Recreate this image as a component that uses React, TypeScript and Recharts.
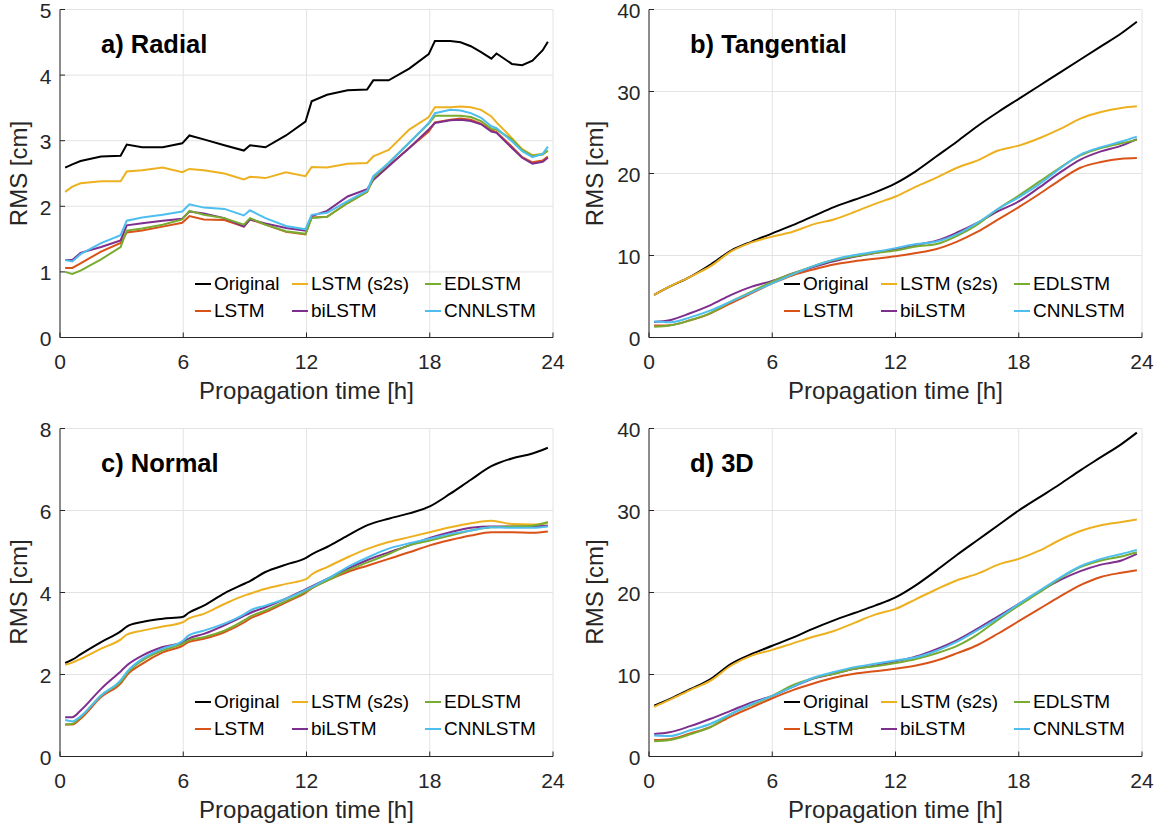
import React from 'react';
import { LineChart, Line, XAxis, YAxis, CartesianGrid, Legend } from 'recharts';

const FONT = '"Liberation Sans", Arial, Helvetica, sans-serif';
const AXIS_COLOR = '#262626';
const GRID_COLOR = '#e3e3e3';

// ---- a) Radial ----
const radialHours = [0.25, 0.6, 1, 2, 2.95, 3.25, 4, 5, 5.95, 6.3, 7, 8, 8.95, 9.25, 10, 11, 11.95, 12.25, 13, 14, 14.95, 15.25, 16, 17, 17.95, 18.25, 19, 19.5, 20, 20.5, 21, 21.25, 22, 22.5, 23, 23.5, 23.75];
const radialOriginal = [2.59, 2.64, 2.69, 2.76, 2.77, 2.94, 2.9, 2.9, 2.96, 3.08, 3.02, 2.93, 2.85, 2.93, 2.9, 3.08, 3.29, 3.6, 3.7, 3.77, 3.78, 3.92, 3.92, 4.1, 4.32, 4.52, 4.52, 4.5, 4.44, 4.35, 4.25, 4.33, 4.17, 4.15, 4.22, 4.38, 4.51];
const radialS2S = [2.22, 2.3, 2.35, 2.38, 2.38, 2.53, 2.55, 2.59, 2.52, 2.57, 2.55, 2.5, 2.41, 2.45, 2.43, 2.52, 2.46, 2.6, 2.59, 2.65, 2.66, 2.76, 2.86, 3.17, 3.36, 3.51, 3.51, 3.52, 3.51, 3.47, 3.37, 3.28, 3.04, 2.87, 2.78, 2.8, 2.84];
const radialLSTM = [1.06, 1.06, 1.13, 1.31, 1.44, 1.6, 1.63, 1.69, 1.75, 1.85, 1.8, 1.79, 1.69, 1.8, 1.72, 1.61, 1.57, 1.83, 1.84, 2.05, 2.22, 2.41, 2.62, 2.89, 3.14, 3.28, 3.32, 3.34, 3.32, 3.26, 3.16, 3.13, 2.91, 2.75, 2.67, 2.7, 2.76];
const radialED = [1.0, 0.97, 1.02, 1.19, 1.38, 1.63, 1.66, 1.72, 1.8, 1.93, 1.87, 1.82, 1.72, 1.82, 1.72, 1.62, 1.58, 1.82, 1.84, 2.05, 2.22, 2.43, 2.66, 2.97, 3.26, 3.38, 3.38, 3.38, 3.36, 3.3, 3.18, 3.17, 3.02, 2.86, 2.77, 2.79, 2.85];
const radialBi = [1.18, 1.18, 1.29, 1.38, 1.48, 1.71, 1.74, 1.78, 1.81, 1.92, 1.89, 1.82, 1.69, 1.8, 1.74, 1.67, 1.63, 1.85, 1.93, 2.15, 2.26, 2.4, 2.61, 2.89, 3.17, 3.27, 3.31, 3.32, 3.3, 3.25, 3.14, 3.12, 2.89, 2.74, 2.65, 2.68, 2.74];
const radialCNN = [1.18, 1.16, 1.27, 1.44, 1.56, 1.78, 1.83, 1.87, 1.92, 2.03, 1.98, 1.96, 1.86, 1.94, 1.82, 1.7, 1.65, 1.87, 1.9, 2.08, 2.24, 2.46, 2.66, 2.97, 3.27, 3.42, 3.47, 3.46, 3.42, 3.35, 3.22, 3.19, 2.99, 2.84, 2.75, 2.8, 2.91];

// ---- b) Tangential and d) 3D share the same hourly grid ----
const hourlyHours = [0.25, 1, 2, 3, 4, 5, 6, 7, 8, 9, 10, 11, 12, 13, 14, 15, 16, 17, 18, 19, 20, 21, 22, 23, 23.75];

const tangOriginal = [5.2, 6.2, 7.4, 8.9, 10.6, 11.7, 12.7, 13.7, 14.8, 15.9, 16.8, 17.7, 18.8, 20.3, 22.1, 23.9, 25.8, 27.5, 29.1, 30.7, 32.3, 33.9, 35.5, 37.1, 38.5];
const tangS2S = [5.2, 6.2, 7.4, 8.7, 10.5, 11.6, 12.3, 12.9, 13.8, 14.4, 15.3, 16.3, 17.2, 18.4, 19.5, 20.7, 21.6, 22.8, 23.4, 24.3, 25.4, 26.7, 27.5, 28.0, 28.2];
const tangLSTM = [1.45, 1.5, 2.1, 2.95, 4.2, 5.4, 6.6, 7.6, 8.3, 8.9, 9.3, 9.6, 9.9, 10.3, 10.8, 11.7, 12.9, 14.4, 15.9, 17.5, 19.2, 20.7, 21.4, 21.8, 21.9];
const tangED = [1.3, 1.45, 2.1, 3.0, 4.4, 5.6, 6.8, 7.8, 8.7, 9.45, 9.9, 10.3, 10.6, 11.1, 11.4, 12.4, 13.8, 15.7, 17.3, 19.0, 20.7, 22.2, 23.1, 23.7, 24.1];
const tangBi = [1.9, 2.1, 2.95, 3.95, 5.2, 6.2, 6.9, 7.8, 8.6, 9.3, 9.85, 10.3, 10.75, 11.3, 11.8, 12.8, 14.0, 15.4, 16.6, 18.3, 20.1, 21.7, 22.7, 23.4, 24.2];
const tangCNN = [1.95, 1.85, 2.45, 3.3, 4.4, 5.5, 6.6, 7.7, 8.7, 9.5, 10.05, 10.45, 10.9, 11.4, 11.7, 12.6, 14.0, 15.7, 17.1, 18.7, 20.6, 22.3, 23.2, 23.9, 24.5];

const d3Original = [6.2, 7.0, 8.2, 9.45, 11.3, 12.5, 13.5, 14.5, 15.6, 16.6, 17.5, 18.4, 19.4, 20.9, 22.7, 24.6, 26.4, 28.2, 30.0, 31.6, 33.2, 34.9, 36.5, 38.1, 39.5];
const d3S2S = [6.05, 6.9, 8.1, 9.25, 11.1, 12.3, 13.0, 13.8, 14.6, 15.3, 16.3, 17.3, 18.0, 19.2, 20.4, 21.5, 22.3, 23.4, 24.1, 25.1, 26.4, 27.5, 28.2, 28.6, 28.9];
const d3LSTM = [2.0, 2.1, 2.8, 3.6, 4.9, 6.0, 7.1, 8.1, 8.9, 9.6, 10.1, 10.4, 10.7, 11.1, 11.7, 12.6, 13.6, 15.0, 16.5, 18.0, 19.5, 20.9, 21.9, 22.4, 22.7];
const d3ED = [1.85, 2.0, 2.7, 3.6, 5.2, 6.3, 7.4, 8.7, 9.55, 10.1, 10.7, 11.0, 11.4, 11.9, 12.6, 13.5, 14.9, 16.7, 18.4, 20.0, 21.7, 23.1, 23.9, 24.4, 24.9];
const d3Bi = [2.75, 2.95, 3.7, 4.6, 5.6, 6.6, 7.4, 8.5, 9.5, 10.1, 10.7, 11.1, 11.6, 12.2, 13.1, 14.2, 15.6, 17.1, 18.6, 20.1, 21.5, 22.6, 23.4, 23.9, 24.7];
const d3CNN = [2.55, 2.5, 3.2, 4.0, 5.2, 6.4, 7.4, 8.5, 9.6, 10.3, 10.9, 11.3, 11.7, 12.1, 12.9, 14.0, 15.4, 16.9, 18.6, 20.2, 21.8, 23.2, 24.1, 24.7, 25.2];

// ---- c) Normal ----
const normalHours = [0.25, 0.6, 1, 2, 3, 3.25, 4, 5, 6, 6.25, 7, 8, 9, 9.25, 10, 11, 12, 12.25, 13, 14, 15, 16, 17, 18, 19, 20, 21, 22, 23, 23.75];
const normalOriginal = [2.28, 2.36, 2.49, 2.79, 3.07, 3.17, 3.28, 3.36, 3.41, 3.5, 3.68, 3.98, 4.22, 4.28, 4.5, 4.68, 4.85, 4.93, 5.11, 5.39, 5.65, 5.8, 5.93, 6.1, 6.41, 6.75, 7.08, 7.27, 7.39, 7.53];
const normalS2S = [2.24, 2.29, 2.38, 2.63, 2.87, 2.97, 3.07, 3.17, 3.28, 3.36, 3.48, 3.72, 3.93, 3.97, 4.09, 4.21, 4.33, 4.44, 4.62, 4.86, 5.07, 5.23, 5.35, 5.47, 5.59, 5.69, 5.75, 5.67, 5.66, 5.69];
const normalLSTM = [0.78, 0.78, 0.92, 1.45, 1.81, 1.98, 2.26, 2.54, 2.71, 2.79, 2.87, 3.03, 3.28, 3.36, 3.52, 3.76, 4.01, 4.1, 4.29, 4.5, 4.66, 4.82, 4.98, 5.15, 5.28, 5.39, 5.47, 5.47, 5.46, 5.49];
const normalED = [0.78, 0.8, 0.96, 1.49, 1.85, 2.02, 2.34, 2.59, 2.76, 2.83, 2.91, 3.07, 3.33, 3.41, 3.56, 3.79, 4.03, 4.11, 4.29, 4.54, 4.74, 4.94, 5.15, 5.27, 5.39, 5.51, 5.59, 5.61, 5.63, 5.72];
const normalBi = [0.96, 0.96, 1.12, 1.65, 2.1, 2.22, 2.46, 2.67, 2.79, 2.87, 2.99, 3.2, 3.44, 3.5, 3.64, 3.85, 4.09, 4.15, 4.33, 4.58, 4.8, 4.98, 5.15, 5.33, 5.47, 5.58, 5.61, 5.61, 5.61, 5.63];
const normalCNN = [0.89, 0.86, 0.98, 1.49, 1.89, 2.06, 2.38, 2.63, 2.83, 2.95, 3.07, 3.24, 3.48, 3.56, 3.68, 3.85, 4.07, 4.13, 4.33, 4.62, 4.86, 5.07, 5.2, 5.31, 5.43, 5.51, 5.59, 5.58, 5.58, 5.61];

const hourTicks = [0, 6, 12, 18, 24];

type SeriesKey = 'original' | 'lstm' | 's2s' | 'bilstm' | 'edlstm' | 'cnnlstm';

const drawOrder: SeriesKey[] = ['original', 'lstm', 's2s', 'bilstm', 'edlstm', 'cnnlstm'];
const legendOrder: SeriesKey[] = ['original', 's2s', 'edlstm', 'lstm', 'bilstm', 'cnnlstm'];

const seriesNames: Record<SeriesKey, string> = {
  original: 'Original',
  lstm: 'LSTM',
  s2s: 'LSTM (s2s)',
  bilstm: 'biLSTM',
  edlstm: 'EDLSTM',
  cnnlstm: 'CNNLSTM',
};

const seriesColors: Record<SeriesKey, string> = {
  original: '#000000',
  lstm: '#D95319',
  s2s: '#EDB120',
  bilstm: '#7E2F8E',
  edlstm: '#77AC30',
  cnnlstm: '#4DBEEE',
};

// chart box and plot area inside each chart
const CHART_W = 570;
const CHART_H = 410;
const PLOT_LEFT = 60;
const PLOT_TOP = 9.5;
const PLOT_W = 493;
const PLOT_H = 328;

const buildRows = (hours: number[], series: Record<SeriesKey, number[]>) =>
  hours.map((t, i) => {
    const row: Record<string, number> = { t };
    drawOrder.forEach((k) => {
      row[k] = series[k][i];
    });
    return row;
  });

const panels = [
  {
    title: 'a) Radial', left: 0, top: 0, yMax: 5, yTicks: [0, 1, 2, 3, 4, 5], curve: 'linear', yLabelX: 27,
    rows: buildRows(radialHours, { original: radialOriginal, lstm: radialLSTM, s2s: radialS2S, bilstm: radialBi, edlstm: radialED, cnnlstm: radialCNN }),
  },
  {
    title: 'b) Tangential', left: 589, top: 0, yMax: 40, yTicks: [0, 10, 20, 30, 40], curve: 'monotone', yLabelX: 14,
    rows: buildRows(hourlyHours, { original: tangOriginal, lstm: tangLSTM, s2s: tangS2S, bilstm: tangBi, edlstm: tangED, cnnlstm: tangCNN }),
  },
  {
    title: 'c) Normal', left: 0, top: 418.5, yMax: 8, yTicks: [0, 2, 4, 6, 8], curve: 'monotone', yLabelX: 27,
    rows: buildRows(normalHours, { original: normalOriginal, lstm: normalLSTM, s2s: normalS2S, bilstm: normalBi, edlstm: normalED, cnnlstm: normalCNN }),
  },
  {
    title: 'd) 3D', left: 589, top: 418.5, yMax: 40, yTicks: [0, 10, 20, 30, 40], curve: 'monotone', yLabelX: 14,
    rows: buildRows(hourlyHours, { original: d3Original, lstm: d3LSTM, s2s: d3S2S, bilstm: d3Bi, edlstm: d3ED, cnnlstm: d3CNN }),
  },
];

// tick renderers: labels plus short inward tick marks (box-style axes)
const BottomTick = ({ x, y, payload }: any) => (
  <g>
    <line x1={x} y1={y} x2={x} y2={y - 5} stroke={AXIS_COLOR} />
    <text x={x} y={y + 31} textAnchor="middle" fontSize={21} fontFamily={FONT} fill={AXIS_COLOR}>
      {payload.value}
    </text>
  </g>
);

const LeftTick = ({ x, y, payload }: any) => (
  <g>
    <line x1={x} y1={y} x2={x + 5} y2={y} stroke={AXIS_COLOR} />
    <text x={x - 8.5} y={y + 8.5} textAnchor="end" fontSize={21} fontFamily={FONT} fill={AXIS_COLOR}>
      {payload.value}
    </text>
  </g>
);

const TopTick = ({ x, y }: any) => <line x1={x} y1={y} x2={x} y2={y + 5} stroke={AXIS_COLOR} />;
const RightTick = ({ x, y }: any) => <line x1={x} y1={y} x2={x - 5} y2={y} stroke={AXIS_COLOR} />;

const legendCols = [0, 97, 230];

const renderLegend = () => (
  <div style={{ position: 'relative', width: 340, height: 54, fontFamily: FONT, fontSize: 19, color: '#000' }}>
    {legendOrder.map((key, i) => (
      <div
        key={key}
        style={{
          position: 'absolute',
          left: legendCols[i % 3],
          top: Math.floor(i / 3) * 27,
          height: 27,
          display: 'flex',
          alignItems: 'center',
          whiteSpace: 'nowrap',
        }}
      >
        <span style={{ display: 'inline-block', width: 16, height: 2, background: seriesColors[key], marginRight: 3 }} />
        <span>{seriesNames[key]}</span>
      </div>
    ))}
  </div>
);

const Panel = ({ panel }: { panel: (typeof panels)[number] }) => (
  <div style={{ position: 'absolute', left: panel.left, top: panel.top, width: CHART_W, height: CHART_H }}>
    <LineChart
      width={CHART_W}
      height={CHART_H}
      data={panel.rows}
      margin={{ top: PLOT_TOP, right: CHART_W - PLOT_LEFT - PLOT_W, left: 0, bottom: 0 }}
    >
      <CartesianGrid stroke={GRID_COLOR} />
      <XAxis
        dataKey="t"
        type="number"
        domain={[0, 24]}
        ticks={hourTicks}
        interval={0}
        height={CHART_H - PLOT_TOP - PLOT_H}
        tickSize={0}
        tickMargin={0}
        tickLine={false}
        axisLine={{ stroke: AXIS_COLOR }}
        tick={<BottomTick />}
      />
      <XAxis
        xAxisId="top"
        orientation="top"
        dataKey="t"
        type="number"
        domain={[0, 24]}
        ticks={hourTicks}
        interval={0}
        height={0}
        tickSize={0}
        tickMargin={0}
        tickLine={false}
        axisLine={{ stroke: AXIS_COLOR }}
        tick={<TopTick />}
      />
      <YAxis
        type="number"
        domain={[0, panel.yMax]}
        ticks={panel.yTicks}
        interval={0}
        width={PLOT_LEFT}
        tickSize={0}
        tickMargin={0}
        tickLine={false}
        axisLine={{ stroke: AXIS_COLOR }}
        tick={<LeftTick />}
      />
      <YAxis
        yAxisId="right"
        orientation="right"
        type="number"
        domain={[0, panel.yMax]}
        ticks={panel.yTicks}
        interval={0}
        width={0}
        tickSize={0}
        tickMargin={0}
        tickLine={false}
        axisLine={{ stroke: AXIS_COLOR }}
        tick={<RightTick />}
      />
      {drawOrder.map((key) => (
        <Line
          key={key}
          type={panel.curve as any}
          dataKey={key}
          name={seriesNames[key]}
          stroke={seriesColors[key]}
          strokeWidth={2}
          dot={false}
          activeDot={false}
          isAnimationActive={false}
        />
      ))}
      <Legend
        layout="horizontal"
        verticalAlign="middle"
        align="center"
        content={renderLegend}
        wrapperStyle={{ left: PLOT_LEFT + 135, top: PLOT_TOP + PLOT_H - 67.5, width: 340, height: 54 }}
      />
    </LineChart>
  </div>
);

export default function App() {
  return (
    <div style={{ position: 'absolute', left: 0, top: 0, width: 1160, height: 829, overflow: 'hidden', background: '#fff' }}>
      {panels.map((p) => (
        <Panel key={p.title} panel={p} />
      ))}
      <svg width={1160} height={829} style={{ position: 'absolute', left: 0, top: 0, pointerEvents: 'none' }}>
        {panels.map((p) => {
          const cy = p.top + PLOT_TOP + PLOT_H / 2;
          const lx = p.left + p.yLabelX;
          return (
            <g key={p.title} fontFamily={FONT}>
              <text x={p.left + 101} y={p.top + 53.3} fontSize={25.5} fontWeight="bold" fill="#000">
                {p.title}
              </text>
              <text
                x={lx}
                y={cy}
                fontSize={24}
                fill={AXIS_COLOR}
                textAnchor="middle"
                transform={`rotate(-90, ${lx}, ${cy})`}
              >
                RMS [cm]
              </text>
              <text
                x={p.left + PLOT_LEFT + PLOT_W / 2}
                y={p.top + PLOT_TOP + PLOT_H + 61.5}
                fontSize={24}
                fill={AXIS_COLOR}
                textAnchor="middle"
              >
                Propagation time [h]
              </text>
            </g>
          );
        })}
      </svg>
    </div>
  );
}
